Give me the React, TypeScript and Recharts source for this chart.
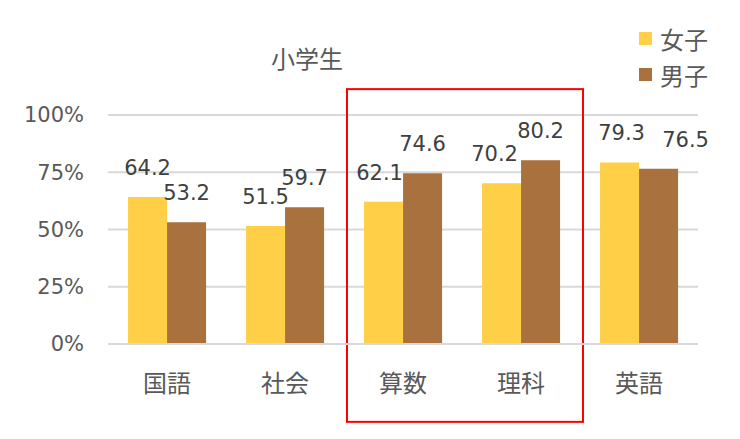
import {
  BarChart,
  Bar,
  XAxis,
  YAxis,
  CartesianGrid,
  LabelList,
  ReferenceArea,
} from "recharts";

const subjects = ["国語", "社会", "算数", "理科", "英語"];
const girls = [64.2, 51.5, 62.1, 70.2, 79.3];
const boys = [53.2, 59.7, 74.6, 80.2, 76.5];
const yTicks = [0, 25, 50, 75, 100];

const data = subjects.map((name, i) => ({ name, girls: girls[i], boys: boys[i] }));

const FONT = '"DejaVu Sans", "Noto Sans CJK JP", sans-serif';
const TEXT = "#595959";
const LABEL = "#404040";
const YELLOW = "#FFCF47";
const BROWN = "#A9713D";

// labels moved sideways by the original chart to keep them apart
const girlsNudge = [0, 0, -4, -7, 2];
const boysNudge = [0, 0, 0, 0, 27];

const legendItems = [
  { label: "女子", color: YELLOW },
  { label: "男子", color: BROWN },
];

function LegendBox() {
  return (
    <div style={{ position: "absolute", left: 639, top: 20, fontFamily: FONT }}>
      {legendItems.map((it) => (
        <div key={it.label} style={{ display: "flex", alignItems: "center", height: 36 }}>
          <span style={{ width: 13, height: 13, background: it.color, marginRight: 8 }} />
          <span style={{ fontSize: 24, color: TEXT }}>{it.label}</span>
        </div>
      ))}
    </div>
  );
}

function makeLabel(nudge: number[]) {
  return (props: any) => {
    const { x, y, width, value, index } = props;
    return (
      <text
        x={x + width / 2 + (nudge[index] || 0)}
        y={y - 22}
        textAnchor="middle"
        fill={LABEL}
        fontSize={21}
        fontFamily={FONT}
      >
        {value}
      </text>
    );
  };
}

// the highlight box in the original sits a little wider than the two category bands
function HighlightBox(props: any) {
  const { x, y, width, height } = props;
  return <rect x={x + 3} y={y} width={width} height={height} fill="none" stroke="#FF0000" strokeWidth={2} />;
}

export default function App() {
  return (
    <div style={{ position: "absolute", left: 0, top: 0, width: 740, height: 439, background: "#fff" }}>
      <div
        style={{
          position: "absolute",
          left: 257,
          top: 48,
          width: 100,
          lineHeight: "24px",
          textAlign: "center",
          fontFamily: FONT,
          fontSize: 24,
          color: TEXT,
        }}
      >
        小学生
      </div>
      <LegendBox />
      <BarChart
        width={740}
        height={439}
        data={data}
        margin={{ top: 115, right: 42, bottom: 65, left: 0 }}
        barCategoryGap="17%"
        barGap={0}
      >
        <CartesianGrid vertical={false} stroke="#D9D9D9" strokeWidth={2} />
        <XAxis
          dataKey="name"
          height={30}
          axisLine={{ stroke: "#D9D9D9", strokeWidth: 2 }}
          tickLine={false}
          tickSize={0}
          tickMargin={31}
          tick={{ fill: TEXT, fontSize: 24, fontFamily: FONT }}
        />
        <YAxis
          width={108}
          domain={[0, 100]}
          ticks={yTicks}
          axisLine={false}
          tickLine={false}
          tickSize={0}
          tickMargin={24}
          tickFormatter={(v) => `${v}%`}
          tick={{ fill: TEXT, fontSize: 21, fontFamily: FONT }}
        />
        <Bar dataKey="girls" name="女子" fill={YELLOW} isAnimationActive={false}>
          <LabelList dataKey="girls" content={makeLabel(girlsNudge)} />
        </Bar>
        <Bar dataKey="boys" name="男子" fill={BROWN} isAnimationActive={false}>
          <LabelList dataKey="boys" content={makeLabel(boysNudge)} />
        </Bar>
        <ReferenceArea
          x1="算数"
          x2="理科"
          y1={-34}
          y2={111.3}
          ifOverflow="visible"
          shape={HighlightBox}
        />
      </BarChart>
    </div>
  );
}
